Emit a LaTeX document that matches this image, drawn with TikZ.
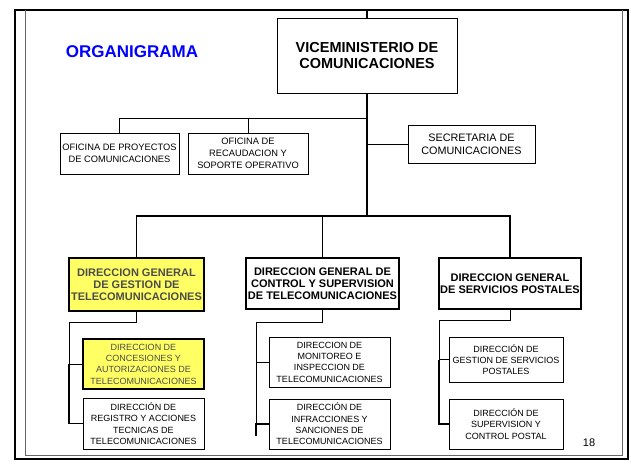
\documentclass[tikz,border=0pt]{standalone}
\usepackage{fontspec}
\setmainfont{Liberation Sans}
\usepackage{tikz}
\definecolor{amarillo}{RGB}{255,255,100}
\definecolor{azul}{RGB}{0,0,255}

\begin{document}
\begin{tikzpicture}[x=1pt,y=-1pt,
 caja/.style={draw, line width=0.8pt, align=center, inner sep=1pt, font=\fontsize{9}{11.3}\selectfont},
 oficina/.style={caja, font=\fontsize{9.3}{12}\selectfont},
 general/.style={caja, line width=1.2pt, font=\fontsize{11}{12.2}\selectfont\bfseries},
 resaltada/.style={fill=amarillo, line width=1.5pt, text=black!70},
 delgada/.style={line width=0.8pt},
 gruesa/.style={line width=1.8pt}]
 \useasboundingbox (0,0) rectangle (631,463);
 \draw[line width=2pt] (15,10) rectangle (628,459);
 \draw[black!60, line width=0.8pt] (25,10) |- (622,455) -- (622,10);

 \node[azul, font=\fontsize{17}{19}\selectfont\bfseries] (titulo) at (132,52) {ORGANIGRAMA};
 \node[caja, line width=1pt, minimum width=180pt, minimum height=75pt, font=\fontsize{14.5}{16.5}\selectfont\bfseries] (vice) at (367,55.5) {VICEMINISTERIO DE\\COMUNICACIONES};

 \node[oficina, minimum width=119pt, minimum height=41pt] (of1) at (119.5,153.5) {OFICINA DE PROYECTOS\\DE COMUNICACIONES};
 \node[oficina, minimum width=120pt, minimum height=41pt] (of2) at (248,153.5) {OFICINA DE\\RECAUDACION Y\\SOPORTE OPERATIVO};
 \node[caja, minimum width=127pt, minimum height=38pt, font=\fontsize{10.8}{13.3}\selectfont] (sec) at (471.5,144) {SECRETARIA DE\\COMUNICACIONES};

 \node[general, resaltada, minimum width=135pt, minimum height=53pt] (dg1) at (136.5,284.5) {DIRECCION GENERAL\\DE GESTION DE\\TELECOMUNICACIONES};
 \node[general, minimum width=153pt, minimum height=51pt] (dg2) at (322.5,283.5) {DIRECCION GENERAL DE\\CONTROL Y SUPERVISION\\DE TELECOMUNICACIONES};
 \node[general, minimum width=142pt, minimum height=51pt] (dg3) at (510,283.5) {DIRECCION GENERAL\\DE SERVICIOS POSTALES};

 \node[caja, resaltada, minimum width=121pt, minimum height=50pt] (d1a) at (143.5,364) {DIRECCION DE\\CONCESIONES Y\\AUTORIZACIONES DE\\TELECOMUNICACIONES};
 \node[caja, minimum width=121pt, minimum height=51pt] (d1b) at (143.5,423.5) {DIRECCIÓN DE\\REGISTRO Y ACCIONES\\TECNICAS DE\\TELECOMUNICACIONES};
 \node[caja, minimum width=121pt, minimum height=50pt] (d2a) at (329.5,362) {DIRECCION DE\\MONITOREO E\\INSPECCION DE\\TELECOMUNICACIONES};
 \node[caja, minimum width=121pt, minimum height=50pt] (d2b) at (329.5,424) {DIRECCIÓN DE\\INFRACCIONES Y\\SANCIONES DE\\TELECOMUNICACIONES};
 \node[caja, minimum width=114pt, minimum height=45pt] (d3a) at (506,359.5) {DIRECCIÓN DE\\GESTION DE SERVICIOS\\POSTALES};
 \node[caja, minimum width=114pt, minimum height=50pt] (d3b) at (506,424) {DIRECCIÓN DE\\SUPERVISION Y\\CONTROL POSTAL};

 \node[font=\fontsize{11}{13}\selectfont] (pagina) at (589,443) {18};

 \coordinate (arriba) at (367,10);
 \coordinate (ramal) at (367,118);
 \coordinate (baja) at (367,185);
 \coordinate (bus) at (367,216);
 \coordinate (c1) at (69,322);
 \coordinate (c2) at (256,322);
 \coordinate (c3) at (439,320);

 \draw[line width=1.2pt] (arriba) -- (vice.north);
 \draw[delgada] (of1.north) |- (ramal);
 \draw[delgada] (of2.north) -- (of2.north |- ramal);
 \draw[delgada] (sec.west) -- (sec.west -| vice.south);
 \draw[line width=1.4pt] (vice.south) -- (bus);
 \draw[line width=2.6pt] (baja) -- (bus);
 \draw[gruesa] (dg1.north) |- (bus) -| (dg3.north);
 \draw[gruesa] (dg2.north) -- (dg2.north |- bus);

 \draw[delgada] (dg1.south) |- (c1) |- (d1b.west);
 \draw[delgada] (d1a.west -| c1) -- (d1a.west);
 \draw[gruesa] (d1a.west -| c1) |- (d1b.west);
 \draw[delgada] (dg2.south) |- (c2) |- (d2b.west);
 \draw[delgada] (d2a.west -| c2) -- (d2a.west);
 \draw[gruesa] ([yshift=-12pt]d2b.west -| c2) |- (d2b.west);
 \draw[delgada] (dg3.south) |- (c3) |- (d3b.west);
 \draw[gruesa] (d3a.west -| c3) -- (d3a.west);
 \draw[gruesa] (d3a.west -| c3) |- (d3b.west);
\end{tikzpicture}
\end{document}
